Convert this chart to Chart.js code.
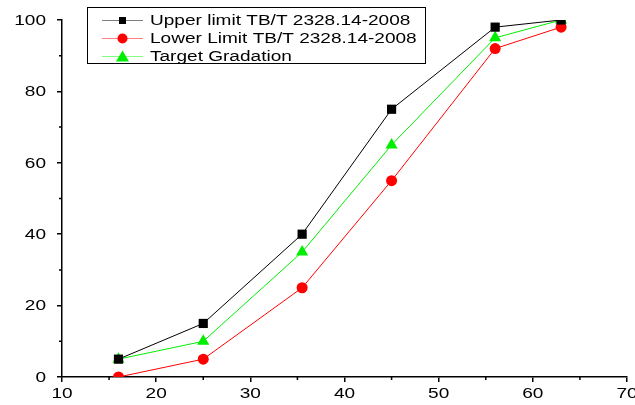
<!DOCTYPE html>
<html>
<head>
<meta charset="utf-8">
<script src="https://cdn.jsdelivr.net/npm/chart.js@4"></script>
<style>
  html, body { margin: 0; padding: 0; background: #fff; }
  #wrap { width: 635px; height: 405px; }
</style>
</head>
<body>
<div id="wrap"><canvas id="gradChart" width="635" height="405"></canvas></div>
<script>
// sieve size (x) and passing percentage (y)
const sieveSizes = [16, 25, 35.5, 45, 56, 63];
const upperLimit = [5, 15, 40, 75, 98, 100];
const lowerLimit = [0, 5, 25, 55, 92, 98];
const targetGradation = [5, 10, 35, 65, 95, 100];
const xTicks = [10, 20, 30, 40, 50, 60, 70];
const yTicks = [0, 20, 40, 60, 80, 100];

const seriesNames = [
    'Upper limit TB/T 2328.14-2008',
    'Lower Limit TB/T 2328.14-2008',
    'Target Gradation'
];
const legendLineColors = ['#808080', '#ff8080', '#80ff80'];

const FONT = '14px "Liberation Sans", Arial, sans-serif';
const STRETCH = 1.36; // the original picture is stretched sideways

const toPoints = (ys) => sieveSizes.map((x, i) => ({ x: x, y: ys[i] }));

function wideText(ctx, text, x, y, align) {
    ctx.save();
    ctx.translate(x, y);
    ctx.scale(STRETCH, 1);
    ctx.textAlign = align;
    ctx.fillText(text, 0, 0);
    ctx.restore();
}

// minor ticks and stretched tick labels
const axisExtras = {
    id: 'axisExtras',
    afterDraw(chart) {
        const ctx = chart.ctx;
        const xs = chart.scales.x, ys = chart.scales.y;
        ctx.save();
        ctx.strokeStyle = '#000';
        ctx.lineWidth = 1.5;
        ctx.beginPath();
        for (let i = 0; i < xTicks.length - 1; i++) {
            const px = xs.getPixelForValue((xTicks[i] + xTicks[i + 1]) / 2);
            ctx.moveTo(px, ys.bottom);
            ctx.lineTo(px, ys.bottom + 3);
        }
        for (let i = 0; i < yTicks.length - 1; i++) {
            const py = ys.getPixelForValue((yTicks[i] + yTicks[i + 1]) / 2);
            ctx.moveTo(xs.left, py);
            ctx.lineTo(xs.left - 3, py);
        }
        ctx.stroke();

        ctx.fillStyle = '#000';
        ctx.font = FONT;
        ctx.textBaseline = 'middle';
        xTicks.forEach(v => {
            wideText(ctx, String(v), xs.getPixelForValue(v), ys.bottom + 17, 'center');
        });
        yTicks.forEach(v => {
            wideText(ctx, String(v), xs.left - 16, ys.getPixelForValue(v) + 1, 'right');
        });
        ctx.restore();
    }
};

// boxed legend with line + marker samples
const boxLegend = {
    id: 'boxLegend',
    afterDraw(chart) {
        const ctx = chart.ctx;
        const x0 = 87, y0 = 7, w = 338, h = 56;
        ctx.save();
        ctx.fillStyle = '#fff';
        ctx.fillRect(x0, y0, w, h);
        ctx.strokeStyle = '#000';
        ctx.lineWidth = 1;
        ctx.strokeRect(x0 + 0.5, y0 + 0.5, w, h);
        ctx.font = FONT;
        ctx.textBaseline = 'middle';
        chart.data.datasets.forEach((ds, i) => {
            const cy = y0 + 13 + i * 18;
            ctx.strokeStyle = legendLineColors[i];
            ctx.lineWidth = 1;
            ctx.beginPath();
            ctx.moveTo(102, cy + 0.5);
            ctx.lineTo(143, cy + 0.5);
            ctx.stroke();
            ctx.fillStyle = ds.pointBackgroundColor;
            ctx.beginPath();
            if (ds.pointStyle === 'rect') {
                ctx.rect(119, cy - 3, 7, 7);
            } else if (ds.pointStyle === 'circle') {
                ctx.arc(122.5, cy + 0.5, 5, 0, Math.PI * 2);
            } else {
                ctx.moveTo(122.5, cy - 5.5);
                ctx.lineTo(129, cy + 5.5);
                ctx.lineTo(116, cy + 5.5);
                ctx.closePath();
            }
            ctx.fill();
            ctx.fillStyle = '#000';
            wideText(ctx, ds.label, 150, cy + 1, 'left');
        });
        ctx.restore();
    }
};

const makeSet = (label, data, color, style, radius) => ({
    label: label,
    data: toPoints(data),
    borderColor: color,
    backgroundColor: color,
    pointBackgroundColor: color,
    pointBorderColor: color,
    pointBorderWidth: 0,
    pointStyle: style,
    pointRadius: radius,
    borderWidth: 1,
    tension: 0,
    fill: false
});

new Chart(document.getElementById('gradChart').getContext('2d'), {
    type: 'line',
    data: {
        datasets: [
            makeSet(seriesNames[0], upperLimit, '#000000', 'rect', 6.5),
            makeSet(seriesNames[1], lowerLimit, '#ff0000', 'circle', 5.5),
            makeSet(seriesNames[2], targetGradation, '#00ee00', 'triangle', 7)
        ]
    },
    options: {
        responsive: false,
        animation: false,
        layout: { padding: { top: 20, right: 8, left: 0, bottom: 0 } },
        plugins: {
            legend: { display: false },
            tooltip: { enabled: false }
        },
        scales: {
            x: {
                type: 'linear',
                min: 10,
                max: 70,
                afterBuildTicks: (s) => { s.ticks = xTicks.map(v => ({ value: v })); },
                afterFit: (s) => { s.height = 28; },
                border: { color: '#000', width: 1.5 },
                grid: { drawOnChartArea: false, tickLength: 5, color: '#000', lineWidth: 1.5 },
                ticks: { display: false }
            },
            y: {
                min: 0,
                max: 100,
                afterBuildTicks: (s) => { s.ticks = yTicks.map(v => ({ value: v })); },
                afterFit: (s) => { s.width = 62; },
                border: { color: '#000', width: 1.5 },
                grid: { drawOnChartArea: false, tickLength: 5, color: '#000', lineWidth: 1.5 },
                ticks: { display: false }
            }
        }
    },
    plugins: [axisExtras, boxLegend]
});
</script>
</body>
</html>
